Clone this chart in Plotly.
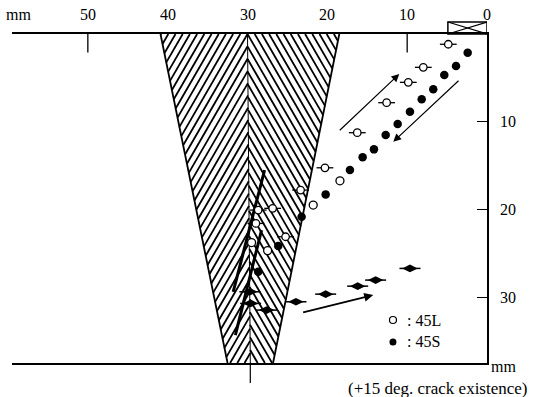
import numpy as np
import plotly.graph_objects as go

# ---------------- data (mm) ----------------
# 45L specimen, open circles with crack bar
L_BAR_X = [4.85, 7.98, 9.86, 12.57, 16.25, 20.30, 23.35, 26.85, 28.66, 28.95, 25.23]
L_BAR_Y = [1.17, 3.80, 5.51, 7.83, 11.25, 15.25, 17.79, 19.87, 20.07, 21.59, 23.11]
# 45L specimen, plain open circles
L_X = [18.42, 21.77, 29.49, 27.48]
L_Y = [16.73, 19.50, 23.77, 24.69]
# 45S specimen, filled circles
S_X = [2.42, 3.88, 5.35, 6.73, 8.18, 9.65, 11.19, 12.69, 14.16, 15.58, 17.17, 20.21, 23.22, 26.15, 28.66]
S_Y = [2.13, 3.65, 4.68, 6.31, 7.45, 8.86, 10.26, 11.52, 13.15, 14.06, 15.51, 18.28, 20.83, 24.17, 27.10]
# 45S specimen, filled marks with crack bar
S_BAR_X = [29.70, 29.61, 27.61, 23.93, 20.21, 16.20, 13.95, 9.65]
S_BAR_Y = [29.38, 30.71, 31.47, 30.52, 29.65, 28.74, 28.05, 26.72]

# crack traces inside the weld
CRACK1_X = [27.86, 31.79]
CRACK1_Y = [15.51, 29.38]
CRACK2_X = [28.24, 31.52]
CRACK2_Y = [22.35, 34.32]

# arrows: (tail_x, tail_y, head_x, head_y, width)
ARROWS = [
    (18.63, 11.14, 10.99, 4.56, 1.2),
    (3.38, 5.17, 11.74, 12.28, 1.2),
    (23.22, 31.78, 14.25, 29.76, 1.8),
]

# weld geometry (x at top y=0 and bottom y=Y_MAX): left edge, centre, right edge
WELD_TOP = [40.9, 30.0, 18.5]
WELD_BOT = [32.5, 29.65, 26.8]

X_MAX = 59.5
Y_MAX = 37.5
X_TICKS = [50, 40, 30, 20, 10, 0]
X_TICK_LABELS = ["50", "40", "30", "20", "10", "0"]
Y_TICKS = [10, 20, 30]
TOP_TICK_MARKS = [50, 10]

# legend positions
LEG_X = 11.78
LEG_Y = [32.6, 35.1]
LEG_TEXT = [": 45L", ": 45S"]

# ---------------- geometry helpers ----------------
W, H = 541, 397
ML, MR, MT, MB = 12, 54, 34, 34
PW, PH = W - ML - MR, H - MT - MB
SX = PW / X_MAX
SY = PH / Y_MAX


def to_px(x, y):
    return (-x * SX, y * SY)


def from_px(X, Y):
    return (-X / SX, Y / SY)


def hatch(poly, normal, anchor, spacing):
    pts = [to_px(*p) for p in poly]
    n = np.array(normal, float)
    proj = [n @ np.array(p) for p in pts]
    c0 = n @ np.array(to_px(*anchor))
    step = abs(n[0]) * spacing
    kmin = int(np.floor((min(proj) - c0) / step)) - 1
    kmax = int(np.ceil((max(proj) - c0) / step)) + 1
    xs, ys = [], []
    for k in range(kmin, kmax + 1):
        c = c0 + k * step
        inter = []
        m = len(pts)
        for i in range(m):
            A = np.array(pts[i]); B = np.array(pts[(i + 1) % m])
            fa = n @ A - c; fb = n @ B - c
            if (fa > 0) != (fb > 0):
                t = fa / (fa - fb)
                inter.append(A + t * (B - A))
        if len(inter) >= 2:
            inter.sort(key=lambda p: p[0])
            p1, p2 = inter[0], inter[-1]
            a = from_px(*p1); b = from_px(*p2)
            xs += [a[0], b[0], None]
            ys += [a[1], b[1], None]
    return xs, ys


left_poly = [(WELD_TOP[0], 0), (WELD_TOP[1], 0), (WELD_BOT[1], Y_MAX), (WELD_BOT[0], Y_MAX)]
right_poly = [(WELD_TOP[1], 0), (WELD_TOP[2], 0), (WELD_BOT[2], Y_MAX), (WELD_BOT[1], Y_MAX)]
anchor = (WELD_TOP[1], 0)
tan = 1.73
hl_x, hl_y = hatch(left_poly, (tan, 1.0), anchor, 7.2)
hr_x, hr_y = hatch(right_poly, (tan, -1.0), anchor, 7.2)

fig = go.Figure()
BLACK = "black"

fig.add_trace(go.Scatter(x=hl_x, y=hl_y, mode="lines", line=dict(color=BLACK, width=1.8),
                         hoverinfo="skip", showlegend=False))
fig.add_trace(go.Scatter(x=hr_x, y=hr_y, mode="lines", line=dict(color=BLACK, width=1.8),
                         hoverinfo="skip", showlegend=False))
# weld edges and centre line
fig.add_trace(go.Scatter(x=[WELD_TOP[0], WELD_BOT[0], None, WELD_TOP[2], WELD_BOT[2]],
                         y=[0, Y_MAX, None, 0, Y_MAX], mode="lines",
                         line=dict(color=BLACK, width=1.8), showlegend=False))
fig.add_trace(go.Scatter(x=[WELD_TOP[1], WELD_BOT[1]], y=[0, Y_MAX], mode="lines",
                         line=dict(color=BLACK, width=1.0), showlegend=False))
# crack lines
for cx, cy in [(CRACK1_X, CRACK1_Y), (CRACK2_X, CRACK2_Y)]:
    fig.add_trace(go.Scatter(x=cx, y=cy, mode="lines", line=dict(color=BLACK, width=3),
                             showlegend=False))
# top tick marks
tx, ty = [], []
for t in TOP_TICK_MARKS:
    tx += [t, t, None]
    ty += [0, 2.1, None]
fig.add_trace(go.Scatter(x=tx, y=ty, mode="lines", line=dict(color=BLACK, width=1.3),
                         showlegend=False))

# markers
fig.add_trace(go.Scatter(x=L_BAR_X, y=L_BAR_Y, mode="markers",
                         marker=dict(symbol="line-ew", size=12, line=dict(color=BLACK, width=1.3)),
                         showlegend=False))
fig.add_trace(go.Scatter(x=L_BAR_X, y=L_BAR_Y, mode="markers",
                         marker=dict(symbol="circle", size=7.5, color="white",
                                     line=dict(color=BLACK, width=1.3)),
                         name="45L", showlegend=False))
fig.add_trace(go.Scatter(x=L_X, y=L_Y, mode="markers",
                         marker=dict(symbol="circle", size=8, color="white",
                                     line=dict(color=BLACK, width=1.3)),
                         name="45L", showlegend=False))
fig.add_trace(go.Scatter(x=S_X, y=S_Y, mode="markers",
                         marker=dict(symbol="circle", size=8.5, color=BLACK),
                         name="45S", showlegend=False))
fig.add_trace(go.Scatter(x=S_BAR_X, y=S_BAR_Y, mode="markers",
                         marker=dict(symbol="line-ew", size=15, line=dict(color=BLACK, width=1.5)),
                         showlegend=False))
fig.add_trace(go.Scatter(x=S_BAR_X, y=S_BAR_Y, mode="markers",
                         marker=dict(symbol="diamond-wide", size=11, color=BLACK),
                         name="45S", showlegend=False))
# legend markers
fig.add_trace(go.Scatter(x=[LEG_X], y=[LEG_Y[0]], mode="markers",
                         marker=dict(symbol="circle", size=7, color="white",
                                     line=dict(color=BLACK, width=1.2)), showlegend=False))
fig.add_trace(go.Scatter(x=[LEG_X], y=[LEG_Y[1]], mode="markers",
                         marker=dict(symbol="circle", size=7, color=BLACK), showlegend=False))

SERIF = "Liberation Serif"
FS = 16
annotations = []
for (tx0, ty0, hx, hy, w) in ARROWS:
    annotations.append(dict(x=hx, y=hy, ax=tx0, ay=ty0, xref="x", yref="y", axref="x", ayref="y",
                            showarrow=True, arrowhead=2, arrowsize=1.3 if w < 1.5 else 1.0,
                            arrowwidth=w, arrowcolor=BLACK, text=""))
for yv, txt in zip(LEG_Y, LEG_TEXT):
    annotations.append(dict(x=LEG_X - 1.5, y=yv, xref="x", yref="y", text=txt, showarrow=False,
                            xanchor="left", yanchor="middle", font=dict(family=SERIF, size=FS, color=BLACK)))
# top tick labels
for v, lab in zip(X_TICKS, X_TICK_LABELS):
    annotations.append(dict(x=v, y=1 + (MT - 15) / PH, xref="x", yref="paper", text=lab,
                            showarrow=False, xanchor="center", yanchor="middle",
                            font=dict(family=SERIF, size=FS, color=BLACK)))
annotations.append(dict(x=(18 - ML) / PW, y=1 + (MT - 14) / PH, xref="paper", yref="paper", text="mm",
                        showarrow=False, xanchor="center", yanchor="middle",
                        font=dict(family=SERIF, size=FS, color=BLACK)))
annotations.append(dict(x=(489 - ML) / PW, y=-(367 - (H - MB)) / PH, xref="paper", yref="paper", text="mm",
                        showarrow=False, xanchor="left", yanchor="middle",
                        font=dict(family=SERIF, size=FS, color=BLACK)))
annotations.append(dict(x=(530 - ML) / PW, y=-(388 - (H - MB)) / PH, xref="paper", yref="paper",
                        text="(+15 deg. crack existence)", showarrow=False, xanchor="right",
                        yanchor="middle", font=dict(family=SERIF, size=17, color=BLACK)))

shapes = [
    # crossed box at the top right
    dict(type="rect", xref="x", yref="paper", x0=4.9, x1=0, y0=1.0, y1=1 + 12 / PH,
         line=dict(color=BLACK, width=1.5)),
    dict(type="line", xref="x", yref="paper", x0=4.9, x1=0, y0=1.0, y1=1 + 12 / PH,
         line=dict(color=BLACK, width=1.2)),
    dict(type="line", xref="x", yref="paper", x0=4.9, x1=0, y0=1 + 12 / PH, y1=1.0,
         line=dict(color=BLACK, width=1.2)),
    # tick below bottom at weld centre
    dict(type="line", xref="x", yref="paper", x0=WELD_BOT[1], x1=WELD_BOT[1], y0=0, y1=-20 / PH,
         line=dict(color=BLACK, width=1.2)),
]

fig.update_layout(
    width=W, height=H,
    margin=dict(l=ML, r=MR, t=MT, b=MB, pad=0, autoexpand=False),
    paper_bgcolor="white", plot_bgcolor="white",
    showlegend=False,
    annotations=annotations,
    shapes=shapes,
    xaxis=dict(range=[X_MAX, 0], side="top", showline=True, linecolor=BLACK, linewidth=1.5,
               mirror=True, showticklabels=False, ticks="",
               showgrid=False, zeroline=False, automargin=False),
    yaxis=dict(range=[Y_MAX, 0], side="right", showline=True, linecolor=BLACK, linewidth=1.5,
               mirror=False, tickvals=Y_TICKS, ticks="inside", ticklen=10, tickcolor=BLACK,
               tickwidth=1.3, showgrid=False, zeroline=False, ticklabelstandoff=8, automargin=False,
               tickfont=dict(family=SERIF, size=FS, color=BLACK)),
)

fig.write_html("out.html")
